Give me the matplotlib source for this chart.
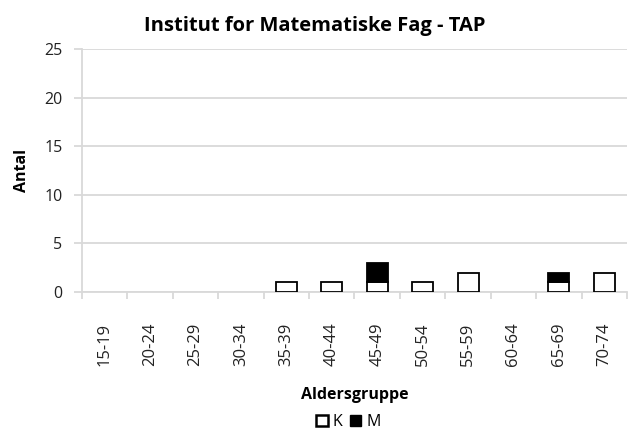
import numpy as np
import matplotlib
matplotlib.use("Agg")
import matplotlib.pyplot as plt
from matplotlib.patches import Patch

# Aldersgrupper og antal
aldersgrupper = ["15-19", "20-24", "25-29", "30-34", "35-39", "40-44",
                 "45-49", "50-54", "55-59", "60-64", "65-69", "70-74"]
k_antal = [0, 0, 0, 0, 1, 1, 1, 1, 2, 0, 1, 2]
m_antal = [0, 0, 0, 0, 0, 0, 2, 0, 0, 0, 1, 0]

plt.rcParams['font.family'] = ['Open Sans', 'DejaVu Sans']

fig = plt.figure(figsize=(6.29, 4.30), dpi=100)
ax = fig.add_axes([0.130, 0.321, 0.867, 0.565])

x = np.arange(len(aldersgrupper))
k = np.array(k_antal, dtype=float)
m = np.array(m_antal, dtype=float)
bredde = 0.46
# tomme grupper tegnes ikke
kx = k > 0
mx = m > 0
ax.bar(x[kx], k[kx], bredde, color="white", edgecolor="black", linewidth=1.3, zorder=3)
ax.bar(x[mx], m[mx], bredde, bottom=k[mx], color="black", edgecolor="black", linewidth=1.3, zorder=3)

ax.set_xlim(-0.5, len(aldersgrupper) - 0.5)
ax.set_ylim(0, 25)
ax.set_yticks(range(0, 26, 5))
ax.set_xticks(x)
ax.set_xticklabels(aldersgrupper, rotation=90, fontsize=12, color="#222222")
ax.tick_params(axis="y", labelsize=11.5, labelcolor="#222222", color="#d9d9d9", length=6, width=1.3, pad=8)
ax.set_xticks(np.arange(-0.5, len(aldersgrupper), 1), minor=True)
ax.tick_params(axis="x", which="major", length=0, pad=22)
ax.tick_params(axis="x", which="minor", length=5, color="#d9d9d9", width=1.3)

ax.grid(axis="y", color="#d9d9d9", linewidth=1.3, zorder=0)
for s in ["top", "right"]:
    ax.spines[s].set_visible(False)
ax.spines["left"].set_color("#d9d9d9")
ax.spines["bottom"].set_color("#d9d9d9")
ax.spines["left"].set_linewidth(1.3)
ax.spines["bottom"].set_linewidth(1.3)

fig.suptitle("Institut for Matematiske Fag - TAP", x=0.5, y=0.963, fontsize=14.5, fontweight="bold")
ax.set_ylabel("Antal", fontsize=11.5, fontweight="bold", labelpad=10)
ax.set_xlabel("Aldersgruppe", fontsize=11.5, fontweight="bold", labelpad=15)

handles = [Patch(facecolor="white", edgecolor="black", linewidth=1.8, label="K"),
           Patch(facecolor="black", edgecolor="black", label="M")]
fig.legend(handles=handles, loc="center", bbox_to_anchor=(0.554, 0.018), ncol=2, frameon=False,
           fontsize=11.5, handlelength=0.7, handleheight=0.7, handletextpad=0.3, columnspacing=0.5)

fig.savefig("out.png", dpi=100)
